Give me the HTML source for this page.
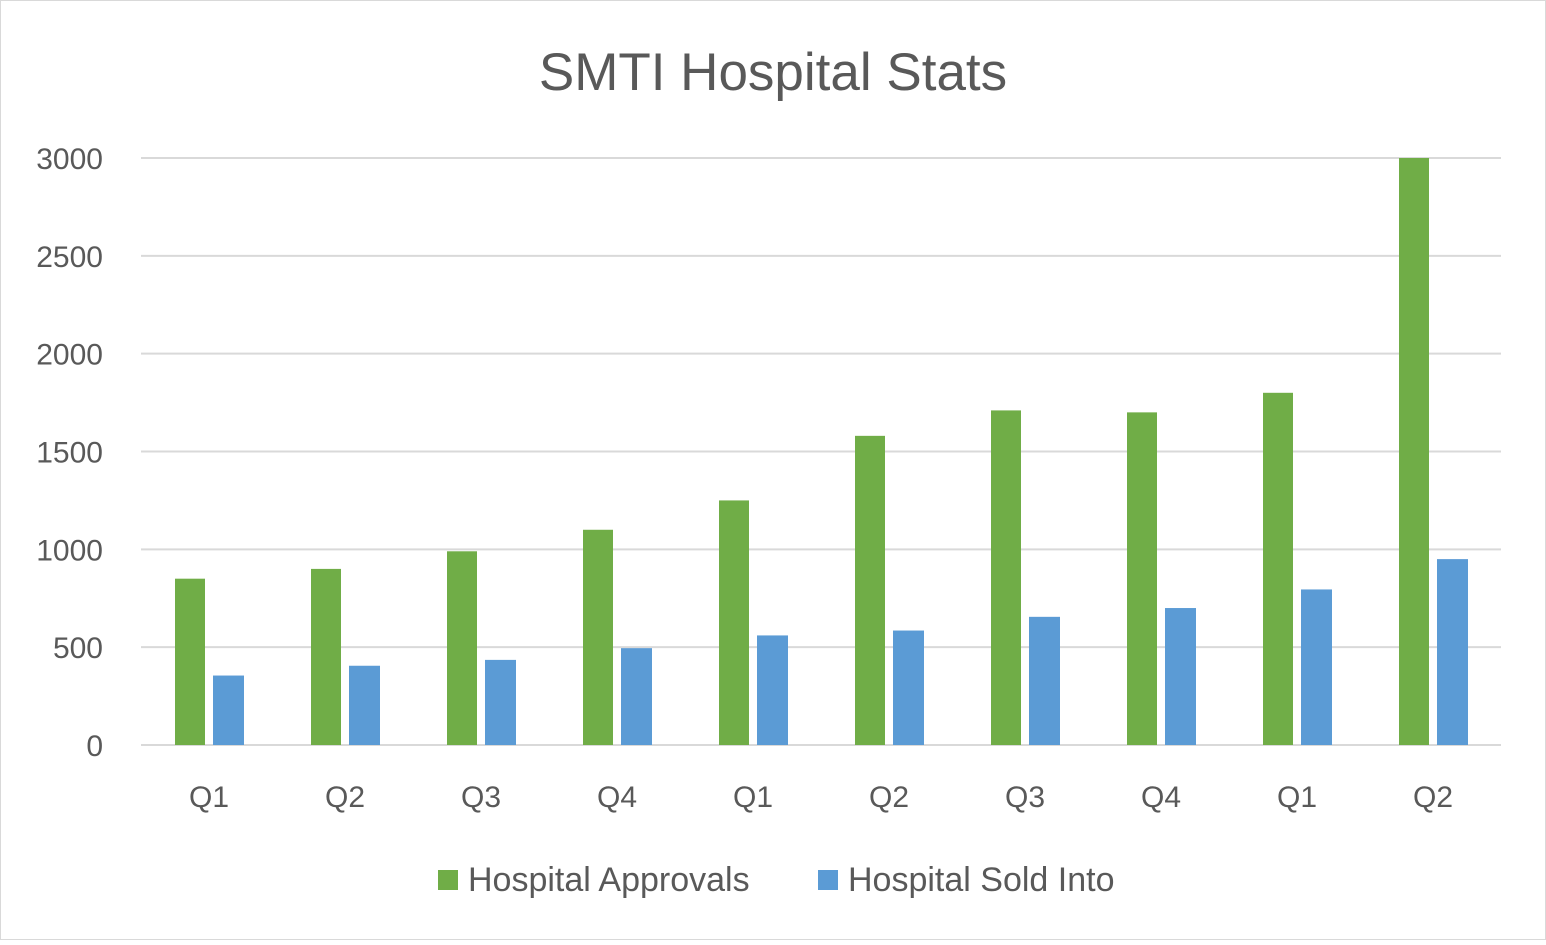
<!DOCTYPE html>
<html><head><meta charset="utf-8"><style>
body{margin:0;background:#fff;}
svg text{font-family:"Liberation Sans",sans-serif;fill:#595959;}
</style></head><body>
<svg width="1546" height="940">
<rect x="0.5" y="0.5" width="1545" height="939" fill="#fff" stroke="#d9d9d9"/>
<text x="773" y="90" font-size="53" text-anchor="middle">SMTI Hospital Stats</text>
<g id="grid"></g><g id="bars"></g><g id="labels"></g>
<g>
<rect x="438" y="870" width="20" height="20" fill="#70ad47"/>
<text x="468" y="891" font-size="34">Hospital Approvals</text>
<rect x="818" y="870" width="20" height="20" fill="#5b9bd5"/>
<text x="848" y="891" font-size="34">Hospital Sold Into</text>
</g>
</svg>
<script>
const categories=["Q1","Q2","Q3","Q4","Q1","Q2","Q3","Q4","Q1","Q2"];
const approvals=[850,900,990,1100,1250,1580,1710,1700,1800,3000];
const soldInto=[355,405,435,495,560,585,655,700,795,950];
const yTicks=[0,500,1000,1500,2000,2500,3000];
const NS="http://www.w3.org/2000/svg";
const x0=141,x1=1501,yTop=158,yBot=745,yMax=3000;
const y=v=>yBot-(v/yMax)*(yBot-yTop);
const band=(x1-x0)/categories.length;
const cx=i=>x0+band*(i+0.5);
function mk(tag,attrs,parent){const e=document.createElementNS(NS,tag);for(const k in attrs)e.setAttribute(k,attrs[k]);document.getElementById(parent).appendChild(e);return e;}
yTicks.forEach(t=>{
 const l=mk("line",{x1:x0,x2:x1,y1:y(t),y2:y(t),stroke:"#d9d9d9","stroke-width":2},"grid");
 
 
 const tx=mk("text",{x:103,y:y(t)+11,"font-size":30,"text-anchor":"end"},"labels");
 tx.textContent=t;
 
 
});
categories.forEach((c,i)=>{
 const g=mk("rect",{x:cx(i)-34,y:y(approvals[i]),width:30,height:yBot-y(approvals[i]),fill:"#70ad47"},"bars");
 
 
 const b=mk("rect",{x:cx(i)+4,y:y(soldInto[i]),width:31,height:yBot-y(soldInto[i]),fill:"#5b9bd5"},"bars");
 
 
 const t=mk("text",{x:cx(i),y:807,"font-size":30,"text-anchor":"middle"},"labels");
 t.textContent=c;
 
 
});
</script>
</body></html>
